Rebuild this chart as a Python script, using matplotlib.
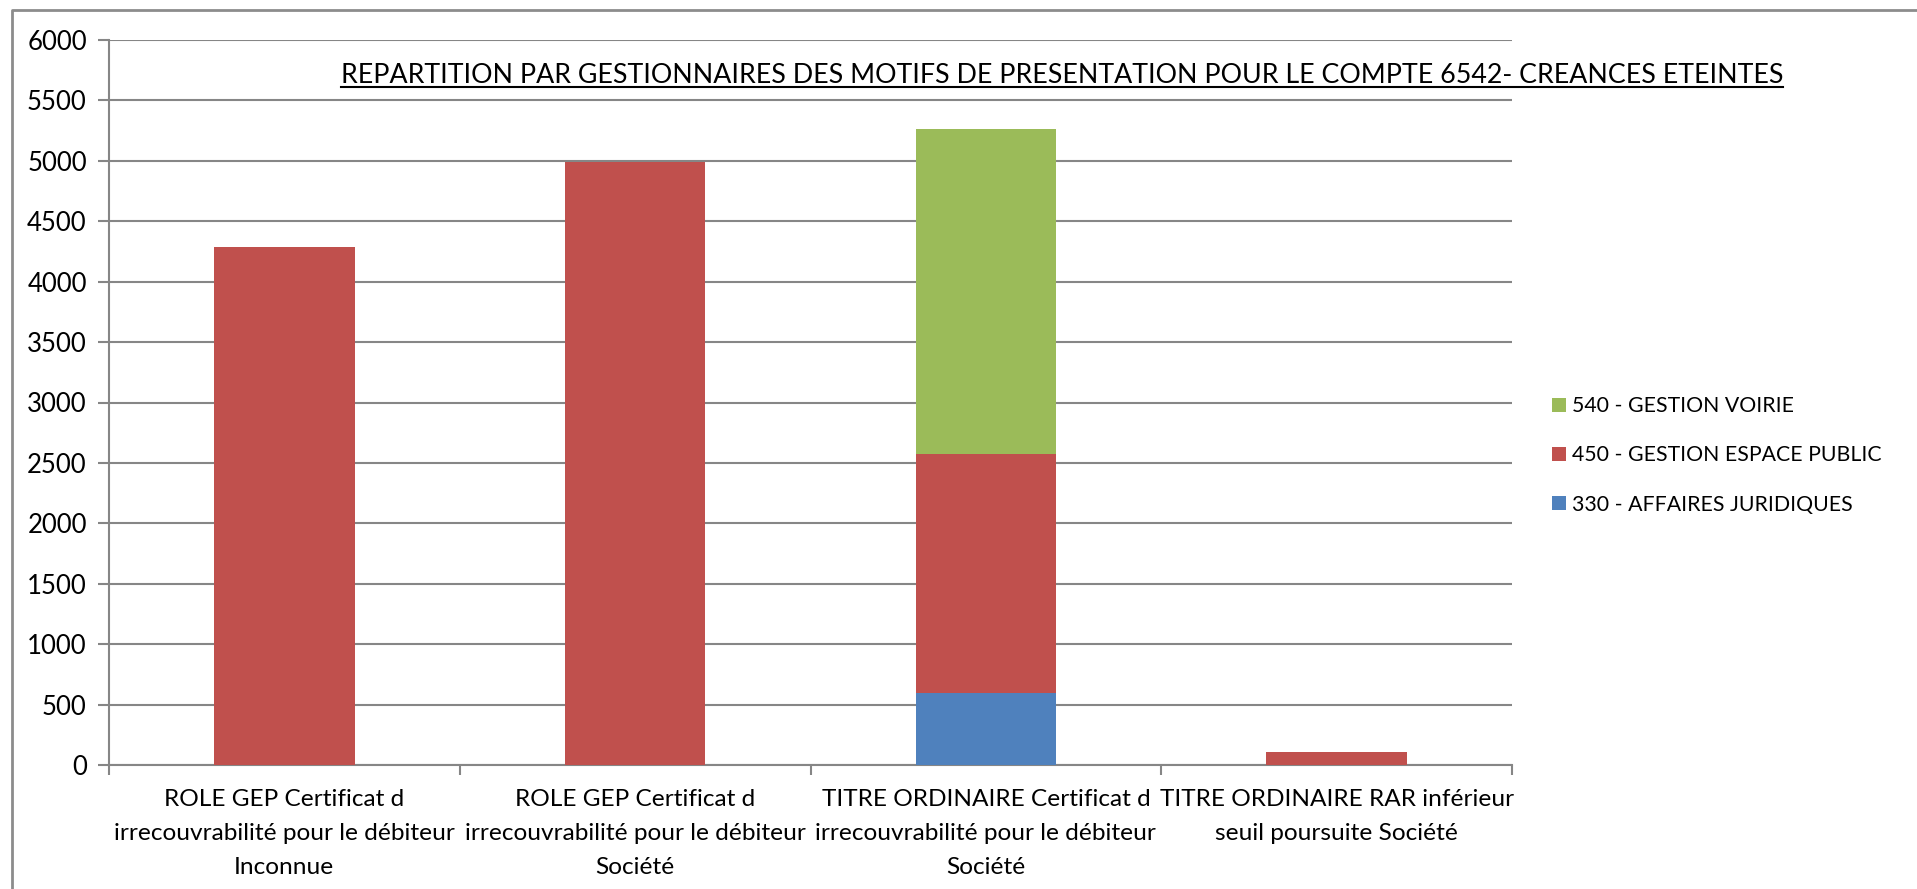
import matplotlib
matplotlib.use("Agg")
import matplotlib.pyplot as plt
from matplotlib.lines import Line2D
import numpy as np

# Data
categories = [
    "ROLE GEP Certificat d\nirrecouvrabilité pour le débiteur\nInconnue",
    "ROLE GEP Certificat d\nirrecouvrabilité pour le débiteur\nSociété",
    "TITRE ORDINAIRE Certificat d\nirrecouvrabilité pour le débiteur\nSociété",
    "TITRE ORDINAIRE RAR inférieur\nseuil poursuite Société",
]
affaires_juridiques = [0, 0, 600, 0]
espace_public = [4285, 4990, 1970, 105]
voirie = [0, 0, 2690, 0]

series_names = ["330 - AFFAIRES JURIDIQUES", "450 - GESTION ESPACE PUBLIC", "540 - GESTION VOIRIE"]
colors = ["#4F81BD", "#C0504D", "#9BBB59"]
y_ticks = list(range(0, 6001, 500))

title = "REPARTITION PAR GESTIONNAIRES DES MOTIFS DE PRESENTATION POUR LE COMPTE 6542- CREANCES ETEINTES"

plt.rcParams["font.family"] = ["Lato", "DejaVu Sans"]
grid_color = "#868686"

fig = plt.figure(figsize=(19.17, 8.89), dpi=100)
ax = fig.add_axes([109 / 1917, 1 - 765 / 889, (1512 - 109) / 1917, (765 - 40) / 889])

x = np.arange(len(categories))
width = 0.4
bottom = np.zeros(len(categories))
bars = []
for vals, name, col in zip([affaires_juridiques, espace_public, voirie], series_names, colors):
    b = ax.bar(x, vals, width, bottom=bottom, color=col, label=name, zorder=3)
    bars.append(b)
    bottom += np.array(vals)

ax.set_xlim(-0.5, len(categories) - 0.5)
ax.set_ylim(0, 6000)
ax.set_yticks(y_ticks)
ax.set_yticklabels([str(v) for v in y_ticks], fontsize=18.5)
ax.yaxis.grid(True, color=grid_color, linewidth=1.5, zorder=0)

ax.set_xticks(x)
ax.set_xticklabels(categories, fontsize=17.6, linespacing=1.78)
ax.set_xticks(np.arange(-0.5, len(categories), 1.0), minor=True)
ax.tick_params(axis="x", which="major", length=0, pad=17)
ax.tick_params(axis="x", which="minor", length=7, width=1.5, color=grid_color)
ax.tick_params(axis="y", length=8, width=1.5, color=grid_color, pad=8)

for side in ["top", "right"]:
    ax.spines[side].set_visible(False)
for side in ["left", "bottom"]:
    ax.spines[side].set_color(grid_color)
    ax.spines[side].set_linewidth(1.5)

# legend: top series first
handles = [bars[2], bars[1], bars[0]]
labels = [series_names[2], series_names[1], series_names[0]]
leg = fig.legend(handles, labels, loc="upper left", bbox_to_anchor=(1533 / 1917, 1 - 377 / 889),
                 frameon=False, fontsize=15.3, handlelength=0.65, handleheight=0.65,
                 handletextpad=0.3, labelspacing=1.38)

# title with underline
t = fig.text(1062 / 1917, 1 - 83 / 889, title, ha="center", va="baseline", fontsize=19.3)
fig.canvas.draw()
bb = t.get_window_extent(renderer=fig.canvas.get_renderer())
uy = 1 - 87 / 889
fig.add_artist(Line2D([bb.x0 / fig.bbox.width, bb.x1 / fig.bbox.width], [uy, uy],
                      transform=fig.transFigure, color="black", linewidth=1.5))

# outer chart frame (top and left edges visible)
fig.add_artist(Line2D([12 / 1917, 12 / 1917, 1.0], [0.0, 1 - 10 / 889, 1 - 10 / 889],
                      transform=fig.transFigure, color="#8c8c8c", linewidth=2))

fig.savefig("out.png", dpi=100)
